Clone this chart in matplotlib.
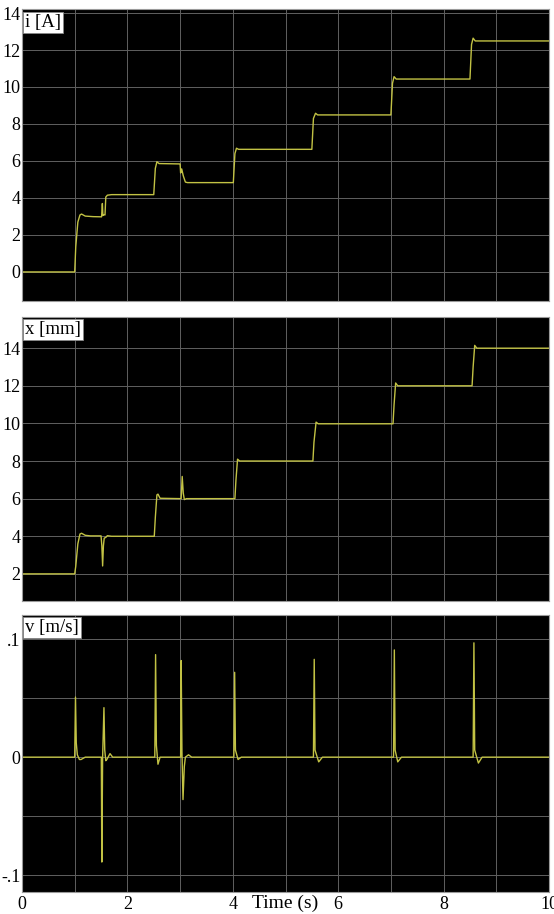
import matplotlib.pyplot as plt

# Coil current i [A]
t_i = [0.0, 1.00, 1.02, 1.06, 1.10, 1.13, 1.20, 1.35, 1.51, 1.525, 1.535, 1.55,
       1.575, 1.59, 1.62, 1.70, 2.50, 2.53, 2.56, 2.60, 3.00, 3.01, 3.03, 3.06,
       3.10, 3.14, 4.01, 4.04, 4.07, 4.11, 5.50, 5.53, 5.57, 5.61, 7.00, 7.03,
       7.06, 7.10, 8.50, 8.53, 8.56, 8.60, 10.0]
i_vals = [0.0, 0.0, 1.35, 2.70, 3.08, 3.13, 3.02, 2.99, 2.98, 3.70, 3.05, 3.10,
          3.08, 4.05, 4.15, 4.18, 4.18, 5.60, 5.96, 5.86, 5.84, 5.35, 5.57, 5.20,
          4.86, 4.83, 4.83, 6.40, 6.69, 6.63, 6.63, 8.30, 8.58, 8.49, 8.49, 10.20,
          10.56, 10.43, 10.43, 12.30, 12.64, 12.49, 12.49]

# Position x [mm]
t_x = [0.0, 1.00, 1.02, 1.06, 1.10, 1.13, 1.20, 1.30, 1.50, 1.515, 1.53, 1.545,
       1.56, 1.59, 1.62, 1.70, 2.51, 2.53, 2.56, 2.58, 2.62, 3.02, 3.04, 3.06,
       3.08, 3.12, 4.04, 4.06, 4.09, 4.13, 5.52, 5.54, 5.58, 5.62, 7.04, 7.06,
       7.09, 7.13, 8.54, 8.56, 8.59, 8.63, 10.0]
x_vals = [2.0, 2.0, 2.40, 3.60, 4.12, 4.16, 4.05, 4.02, 4.02, 3.50, 2.42, 3.50,
          3.90, 3.94, 4.03, 4.00, 4.00, 5.00, 6.20, 6.24, 6.02, 6.00, 7.18, 6.30,
          5.95, 6.00, 6.00, 7.00, 8.10, 8.00, 8.00, 9.00, 10.07, 9.98, 9.98, 11.00,
          12.15, 12.00, 12.00, 13.00, 14.15, 14.00, 14.00]

# Velocity v [m/s]
t_v = [0.0, 1.00, 1.015, 1.03, 1.05, 1.09, 1.12, 1.20,
       1.505, 1.515, 1.53, 1.555, 1.57, 1.59, 1.61, 1.67, 1.72,
       2.52, 2.535, 2.55, 2.58, 2.62,
       3.01, 3.02, 3.035, 3.055, 3.08, 3.10, 3.16, 3.22,
       4.02, 4.035, 4.05, 4.10, 4.16,
       5.53, 5.545, 5.56, 5.63, 5.70,
       7.05, 7.065, 7.08, 7.13, 7.20,
       8.56, 8.575, 8.59, 8.66, 8.73, 10.0]
v_vals = [0.0, 0.0, 0.051, 0.012, 0.002, -0.002, -0.002, 0.0,
          0.0, -0.089, 0.0, 0.042, 0.006, -0.003, -0.002, 0.003, 0.0,
          0.0, 0.087, 0.010, -0.006, 0.0,
          0.0, 0.082, 0.005, -0.036, -0.008, 0.0, 0.002, 0.0,
          0.0, 0.072, 0.006, -0.002, 0.0,
          0.0, 0.083, 0.006, -0.004, 0.0,
          0.0, 0.091, 0.006, -0.004, 0.0,
          0.0, 0.097, 0.006, -0.005, 0.0, 0.0]

line_color = '#c2c244'
grid_color = '#606060'
font = 'Liberation Serif'

fig = plt.figure(figsize=(5.54, 9.14), dpi=100)

panels = [
    # [left, bottom, width, height], t, y, ylim, yticks, yticklabels, label
    ([0.0397, 0.6707, 0.9513, 0.3191], t_i, i_vals, (-1.57, 14.2),
     [0, 2, 4, 6, 8, 10, 12, 14], ['0', '2', '4', '6', '8', '10', '12', '14'], 'i [A]'),
    ([0.0397, 0.3425, 0.9513, 0.3107], t_x, x_vals, (0.56, 15.66),
     [2, 4, 6, 8, 10, 12, 14], ['2', '4', '6', '8', '10', '12', '14'], 'x [mm]'),
    ([0.0397, 0.0241, 0.9513, 0.3030], t_v, v_vals, (-0.1144, 0.1206),
     [-0.1, -0.05, 0, 0.05, 0.1], ['-.1', '', '0', '', '.1'], 'v [m/s]'),
]

axes = []
for rect, t, y, ylim, yt, ytl, label in panels:
    ax = fig.add_axes(rect)
    ax.set_facecolor('black')
    ax.plot(t, y, color=line_color, lw=1.0)
    ax.set_xlim(0, 10)
    ax.set_ylim(*ylim)
    ax.set_xticks(range(0, 11))
    ax.set_yticks(yt)
    ax.set_yticklabels(ytl, fontfamily=font, fontsize=13)
    ax.set_xticklabels([])
    ax.tick_params(length=0, pad=1)
    ax.grid(True, color=grid_color, lw=0.7)
    for s in ax.spines.values():
        s.set_color('#9a9a9a')
        s.set_linewidth(0.8)
    ax.text(0.006, 0.985, label, transform=ax.transAxes, ha='left', va='top',
            fontfamily=font, fontsize=13.5, color='black',
            bbox=dict(boxstyle='square,pad=0.1', facecolor='white',
                      edgecolor='#888888', lw=0.6))
    axes.append(ax)

# bottom panel carries the time labels
ax = axes[-1]
ax.set_xticklabels(['0', '', '2', '', '4', '', '6', '', '8', '', '10'],
                   fontfamily=font, fontsize=13)
ax.tick_params(axis='x', pad=3)
fig.text(285 / 554, 1 - 903 / 914, 'Time (s)', ha='center', va='center',
         fontfamily=font, fontsize=14)

fig.savefig('out.png', dpi=100, facecolor='white')
